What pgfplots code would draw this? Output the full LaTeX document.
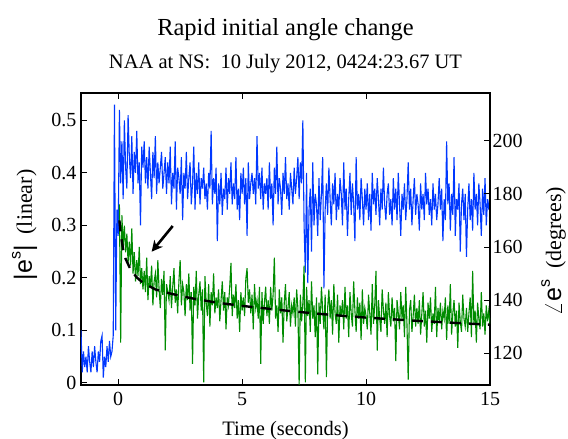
\documentclass[border=0pt]{standalone}
\usepackage{pgfplots}
\pgfplotsset{compat=1.18}
\usepackage{pgfplotstable}
\usepackage{fontspec}
\setmainfont{Liberation Serif}
\newfontfamily\hv{Liberation Sans}
\usetikzlibrary{arrows.meta,calc}
\definecolor{mblue}{RGB}{0,56,255}
\definecolor{mgreen}{RGB}{0,140,0}

% |e^s| (linear), sampled every 0.05 s from t = -1.5 s
\pgfplotstableread[header=false,row sep=\\]{
0.10\\0.02\\0.06\\0.03\\0.05\\0.02\\0.07\\0.04\\0.02\\0.06\\
0.03\\0.07\\0.04\\0.02\\0.06\\0.04\\0.08\\0.09\\0.01\\0.05\\
0.03\\0.07\\0.04\\0.08\\0.05\\0.06\\0.09\\0.53\\0.10\\0.33\\
0.28\\0.52\\0.38\\0.46\\0.35\\0.50\\0.41\\0.37\\0.51\\0.43\\0.39\\0.47\\0.36\\0.44\\0.40\\0.48\\0.38\\0.42\\0.30\\0.45\\
0.41\\0.46\\0.38\\0.43\\0.37\\0.45\\0.40\\0.35\\0.44\\0.39\\0.47\\0.36\\0.42\\0.38\\0.41\\0.44\\0.37\\0.40\\0.43\\0.36\\
0.42\\0.38\\0.45\\0.34\\0.40\\0.37\\0.46\\0.33\\0.41\\0.39\\0.36\\0.43\\0.31\\0.40\\0.37\\0.44\\0.35\\0.39\\0.42\\0.34\\
0.38\\0.45\\0.33\\0.40\\0.36\\0.42\\0.34\\0.39\\0.37\\0.41\\0.35\\0.38\\0.33\\0.40\\0.37\\0.48\\0.34\\0.39\\0.36\\0.41\\
0.27\\0.38\\0.34\\0.40\\0.32\\0.37\\0.35\\0.41\\0.33\\0.39\\0.36\\0.42\\0.34\\0.38\\0.35\\0.43\\0.33\\0.37\\0.31\\0.40\\
0.36\\0.41\\0.34\\0.39\\0.28\\0.42\\0.35\\0.38\\0.40\\0.36\\0.39\\0.34\\0.47\\0.37\\0.40\\0.35\\0.41\\0.33\\0.38\\0.36\\
0.39\\0.33\\0.42\\0.35\\0.38\\0.30\\0.41\\0.36\\0.45\\0.34\\0.39\\0.37\\0.32\\0.40\\0.36\\0.43\\0.35\\0.38\\0.33\\0.40\\
0.37\\0.34\\0.41\\0.36\\0.39\\0.43\\0.35\\0.42\\0.38\\0.50\\0.30\\0.21\\0.40\\0.19\\0.33\\0.37\\0.25\\0.42\\0.30\\0.36\\
0.34\\0.28\\0.39\\0.31\\0.36\\0.43\\0.18\\0.33\\0.38\\0.32\\0.41\\0.35\\0.30\\0.38\\0.34\\0.40\\0.31\\0.36\\0.33\\0.39\\
0.36\\0.30\\0.42\\0.33\\0.37\\0.28\\0.35\\0.40\\0.32\\0.38\\0.34\\0.27\\0.43\\0.33\\0.36\\0.31\\0.39\\0.35\\0.30\\0.37\\
0.33\\0.38\\0.31\\0.36\\0.29\\0.40\\0.34\\0.37\\0.32\\0.39\\0.35\\0.30\\0.37\\0.33\\0.41\\0.34\\0.31\\0.36\\0.38\\0.32\\
0.35\\0.30\\0.39\\0.33\\0.37\\0.31\\0.40\\0.34\\0.28\\0.36\\0.33\\0.38\\0.31\\0.35\\0.42\\0.33\\0.37\\0.30\\0.35\\0.39\\
0.32\\0.36\\0.34\\0.29\\0.38\\0.33\\0.36\\0.31\\0.40\\0.34\\0.37\\0.32\\0.35\\0.30\\0.38\\0.33\\0.36\\0.31\\0.34\\0.39\\
0.33\\0.37\\0.27\\0.35\\0.31\\0.46\\0.34\\0.38\\0.29\\0.36\\0.32\\0.43\\0.28\\0.35\\0.33\\0.38\\0.25\\0.34\\0.37\\0.31\\
0.36\\0.24\\0.33\\0.38\\0.31\\0.35\\0.29\\0.40\\0.33\\0.36\\0.30\\0.38\\0.34\\0.28\\0.37\\0.32\\0.39\\0.30\\0.35\\0.33\\0.36\\
}\ampdata

% angle of e^s (degrees), sampled every 0.05 s from t = 0.05 s
\pgfplotstableread[header=false,row sep=\\]{
176\\124\\172\\160\\168\\158\\165\\154\\162\\153\\167\\150\\158\\147\\155\\149\\160\\146\\152\\144\\
151\\143\\156\\140\\149\\145\\153\\138\\147\\150\\141\\155\\144\\137\\148\\142\\151\\121\\146\\143\\
140\\149\\137\\145\\152\\139\\144\\135\\147\\155\\138\\146\\143\\134\\146\\140\\150\\136\\143\\116\\
145\\138\\151\\133\\142\\147\\136\\144\\109\\149\\139\\134\\146\\130\\143\\138\\150\\135\\141\\137\\
144\\132\\140\\147\\136\\143\\129\\141\\138\\145\\154\\134\\142\\137\\146\\133\\140\\128\\143\\136\\
141\\134\\148\\152\\139\\144\\135\\142\\129\\146\\137\\140\\133\\145\\116\\143\\131\\139\\145\\134\\
140\\131\\145\\136\\142\\156\\133\\138\\128\\144\\135\\141\\124\\139\\146\\132\\137\\143\\130\\138\\
135\\141\\130\\144\\137\\108\\142\\132\\139\\153\\109\\145\\134\\140\\128\\147\\133\\138\\126\\141\\
112\\139\\131\\145\\136\\129\\142\\111\\137\\144\\133\\140\\127\\146\\135\\131\\142\\124\\138\\134\\
140\\129\\145\\133\\138\\126\\143\\135\\130\\147\\136\\128\\141\\133\\139\\125\\144\\131\\137\\134\\
129\\142\\135\\127\\146\\131\\138\\151\\121\\140\\133\\128\\144\\136\\131\\139\\126\\143\\134\\130\\
141\\132\\137\\117\\140\\135\\129\\143\\133\\138\\126\\145\\131\\110\\136\\140\\128\\134\\142\\130\\
137\\131\\140\\127\\135\\143\\130\\136\\124\\139\\133\\141\\128\\135\\131\\145\\126\\137\\132\\139\\
129\\136\\133\\141\\125\\138\\131\\146\\127\\135\\140\\130\\136\\122\\139\\132\\128\\142\\133\\130\\
137\\128\\135\\141\\126\\151\\131\\136\\124\\139\\133\\129\\143\\130\\135\\127\\138\\132\\136\\131\\
}\angdata

\begin{document}
\begin{tikzpicture}
\pgfplotsset{
  every axis/.append style={
    scale only axis, width=409pt, height=292pt,
    xmin=-1.5, xmax=15,
    axis line style={line width=1.1pt},
    tick style={line width=0.9pt, black},
    major tick length=6pt,
    tick align=inside,
    tick label style={font=\fontsize{20}{22}\selectfont},
    /pgf/number format/assume math mode=true,
  },
}
\begin{axis}[
  at={(0,0)}, anchor=south west,
  ymin=-0.004, ymax=0.552,
  xtick={0,5,10,15},
  ytick={0,0.1,0.2,0.3,0.4,0.5},
  yticklabels={0,0.1,0.2,0.3,0.4,0.5},
  xtick pos=both, ytick pos=left,
  xticklabel style={yshift=-4pt},
  yticklabel style={xshift=-1pt},
  clip=true,
]
\addplot[mblue, line width=1.1pt] table[x expr=\coordindex*0.05-1.5, y index=0] {\ampdata};
\coordinate (SW) at (rel axis cs:0,0);
\coordinate (NE) at (rel axis cs:1,1);
\end{axis}
\begin{axis}[
  at={(0,0)}, anchor=south west,
  ymin=108, ymax=218,
  axis y line*=right, axis x line=none,
  ytick={120,140,160,180,200},
  yticklabel style={xshift=-1pt},
]
\addplot[mgreen, line width=1.1pt] table[x expr=\coordindex*0.05+0.05, y index=0] {\angdata};
\addplot[black, line width=2.4pt, dash pattern=on 11pt off 8pt] coordinates {
(0.05,170) (0.1,165) (0.2,159) (0.3,155.5) (0.5,151.5) (0.75,148.5) (1,146.5)
(1.5,144) (2,142.7) (2.5,141.6) (3,140.6) (4,139) (5,137.8) (6,136.8) (7,135.8)
(8,134.9) (9,134.1) (10,133.4) (11,132.8) (12,132.2) (13,131.7) (14,131.2) (15,130.7)};
\draw[-{Stealth[length=11pt,width=11pt]}, line width=2.6pt, black] (axis cs:2.2,167.9) -- (axis cs:1.35,158.2);
\end{axis}
% titles and labels
\node[anchor=base, font=\fontsize{24.5}{26}\selectfont] at ($(SW|-NE)!0.5!(NE)+(0,57pt)$) {Rapid initial angle change};
\node[anchor=base, font=\fontsize{20.5}{22}\selectfont] at ($(SW|-NE)!0.5!(NE)+(0,24pt)$) {NAA at NS:\ \ 10 July 2012, 0424:23.67 UT};
\node[anchor=base, font=\fontsize{20.5}{22}\selectfont] at ($(SW)!0.5!(SW-|NE)+(0,-51pt)$) {Time (seconds)};
\node[rotate=90, anchor=base, font=\fontsize{22}{22}\selectfont] at ($(SW)!0.5!(SW|-NE)+(-49pt,14pt)$) {{\hv\fontsize{25}{25}\selectfont|e\raisebox{0.45em}{\fontsize{16}{16}\selectfont s}|}\ \ (linear)};
\node[rotate=90, anchor=base, font=\fontsize{22}{22}\selectfont] at ($(SW-|NE)!0.5!(NE)+(71pt,-12pt)$) {{\fontsize{27}{27}\selectfont$\angle$\hv\fontsize{25}{25}\selectfont e\raisebox{0.45em}{\fontsize{16}{16}\selectfont s}}\ \ (degrees)};
\pgfresetboundingbox
\path ($(SW)+(-81pt,-54pt)$) rectangle ($(NE)+(78pt,93pt)$);
\end{tikzpicture}
\end{document}
